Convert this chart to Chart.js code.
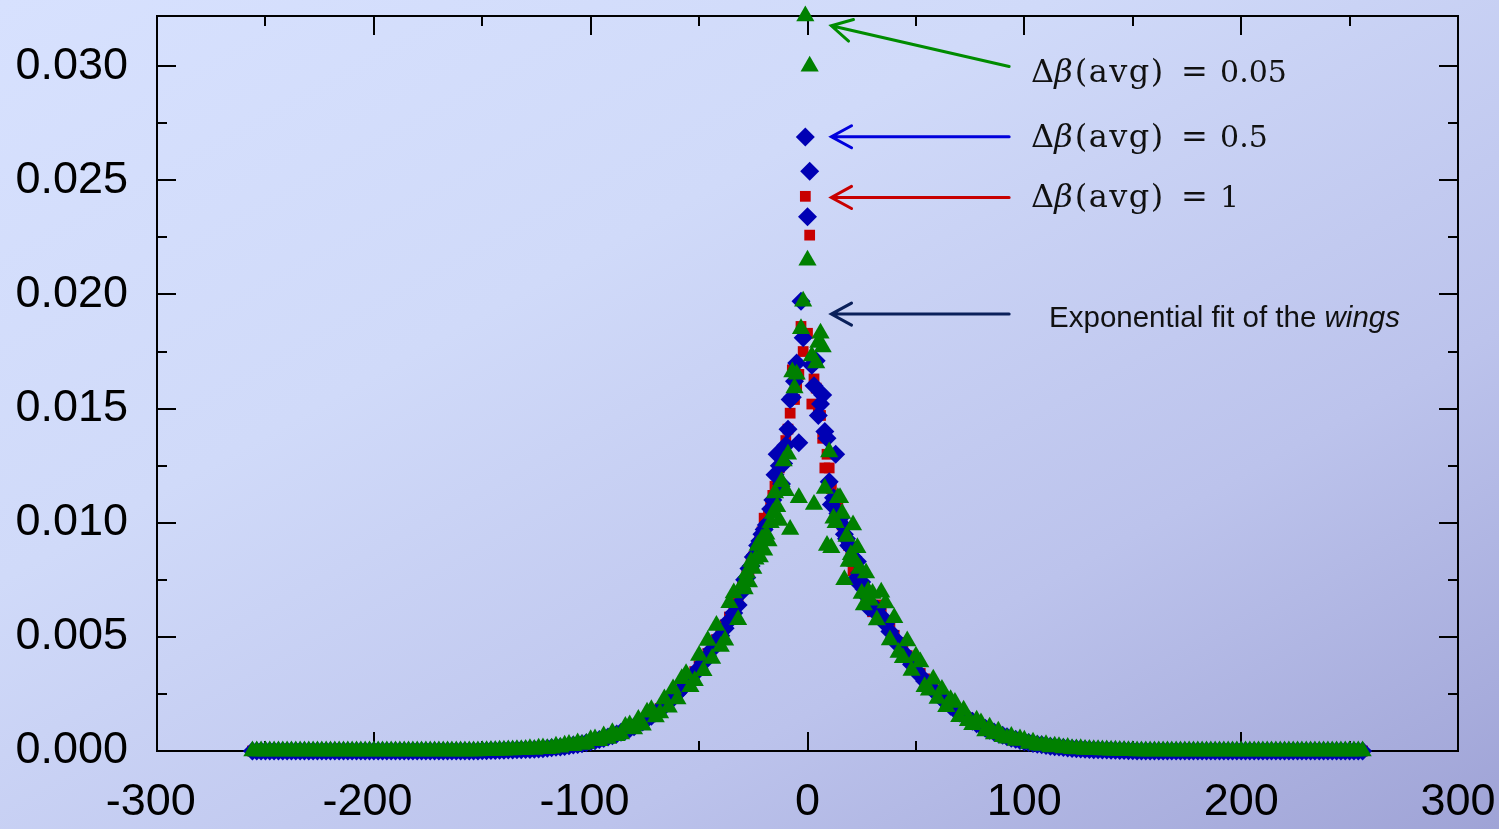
<!DOCTYPE html>
<html lang="en">
<head>
    <meta charset="UTF-8">
    <title>Δβ(avg) distributions</title>
    <script src="https://cdn.jsdelivr.net/npm/chart.js"></script>
    <style>
        html, body {
            margin: 0;
            padding: 0;
        }
        body {
            width: 1499px;
            height: 829px;
            overflow: hidden;
            background: linear-gradient(to bottom right, #d7e1fe 0%, #d0daf9 35%, #bcc3ec 70%, #9fa3d6 100%);
        }
        #chartContainer {
            position: relative;
            width: 1499px;
            height: 829px;
        }
    </style>
</head>
<body>
    <div id="chartContainer">
        <canvas id="myChart" width="1499" height="829"></canvas>
    </div>
    <script>
        // x grid: every 2 in the wings, every 1 near the peak
        const xs = [];
        for (let x = -256; x < -30; x += 2) xs.push(x);
        for (let x = -30; x <= 30; x++) xs.push(x);
        for (let x = 32; x <= 256; x += 2) xs.push(x);

        // |x| >= 152 : nothing left in the histogram
        const farZeros = [
            0, 0, 0, 0, 0, 0, 0, 0, 0, 0, 0, 0, 0, 0, 0, 0, 0, 0, 0, 0,
            0, 0, 0, 0, 0, 0, 0, 0, 0, 0, 0, 0, 0, 0, 0, 0, 0, 0, 0, 0,
            0, 0, 0, 0, 0, 0, 0, 0, 0, 0, 0, 0, 0
        ];
        // -150 .. -130 and 130 .. 150
        const tailIn = [0.00001, 0.00001, 0.00002, 0.00002, 0.00003, 0.00003, 0.00004, 0.00004, 0.00005, 0.00006, 0.00007];
        const tailOut = [0.00007, 0.00006, 0.00005, 0.00004, 0.00004, 0.00003, 0.00003, 0.00002, 0.00002, 0.00001, 0.00001];

        // Δβ(avg) = 0.05
        const green005 = [
            ...farZeros, ...tailIn,
            // -128 .. -32
            0.00010, 0.00007, 0.00012, 0.00013, 0.00010, 0.00012, 0.00021, 0.00016, 0.00025, 0.00028,
            0.00023, 0.00035, 0.00029, 0.00033, 0.00049, 0.00053, 0.00045, 0.00066, 0.00055, 0.00080,
            0.00067, 0.00074, 0.00107, 0.00114, 0.00096, 0.00138, 0.00113, 0.00170, 0.00181, 0.00149,
            0.00166, 0.00228, 0.00192, 0.00272, 0.00228, 0.00316, 0.00338, 0.00281, 0.00308, 0.00418,
            0.00352, 0.00484, 0.00405, 0.00550, 0.00458, 0.00485, 0.00650, 0.00692, 0.00575,
            // -30 .. 30
            0.0073, 0.0071, 0.0078, 0.0074, 0.0083, 0.0080, 0.0084, 0.0090, 0.0085, 0.0093,
            0.0088, 0.0095, 0.0092, 0.0100, 0.0104, 0.0113, 0.0107, 0.0101, 0.0118, 0.0127,
            0.0114, 0.0130, 0.0097, 0.0166, 0.0159, 0.0165, 0.0111, 0.0185, 0.0197, 0.0322,
            0.0215, 0.0300, 0.0173, 0.0108, 0.0170, 0.0179, 0.0183, 0.0177, 0.0115, 0.0090,
            0.0131, 0.0089, 0.0102, 0.0100, 0.0111, 0.0111, 0.0104, 0.0075, 0.0094, 0.0083,
            0.0086, 0.0099, 0.0083, 0.0089, 0.0080, 0.0069, 0.0064, 0.0078, 0.0070, 0.0066, 0.0069,
            // 32 .. 128
            0.00574, 0.00695, 0.00648, 0.00486, 0.00584, 0.00432, 0.00408, 0.00482, 0.00353, 0.00415,
            0.00390, 0.00282, 0.00266, 0.00314, 0.00230, 0.00269, 0.00194, 0.00225, 0.00212, 0.00150,
            0.00179, 0.00132, 0.00115, 0.00135, 0.00123, 0.00088, 0.00104, 0.00075, 0.00086, 0.00062,
            0.00056, 0.00064, 0.00046, 0.00053, 0.00047, 0.00033, 0.00038, 0.00026, 0.00024, 0.00027,
            0.00018, 0.00021, 0.00019, 0.00013, 0.00015, 0.00010, 0.00009, 0.00010, 0.00007,
            ...tailOut, ...farZeros
        ];

        // Δβ(avg) = 0.5
        const blue05 = [
            ...farZeros, ...tailIn,
            0.00007, 0.00008, 0.00009, 0.00010, 0.00012, 0.00014, 0.00016, 0.00018, 0.00020, 0.00023,
            0.00026, 0.00029, 0.00032, 0.00036, 0.00040, 0.00045, 0.00050, 0.00055, 0.00061, 0.00067,
            0.00074, 0.00082, 0.00089, 0.00097, 0.00106, 0.00116, 0.00127, 0.00140, 0.00152, 0.00166,
            0.00182, 0.00196, 0.00214, 0.00232, 0.00252, 0.00272, 0.00293, 0.00315, 0.00338, 0.00362,
            0.00388, 0.00415, 0.00445, 0.00476, 0.00505, 0.00538, 0.00572, 0.00605, 0.00640,
            0.0070, 0.0075, 0.0076, 0.0080, 0.0081, 0.0085, 0.0086, 0.0090, 0.0092, 0.0095,
            0.0097, 0.0099, 0.0100, 0.0106, 0.0110, 0.0121, 0.0130, 0.0125, 0.0117, 0.0126,
            0.0134, 0.0141, 0.0154, 0.0155, 0.0162, 0.0170, 0.0135, 0.0197, 0.0181, 0.0269,
            0.0234, 0.0254, 0.0169, 0.0160, 0.0171, 0.0147, 0.0152, 0.0156, 0.0140, 0.0137,
            0.0118, 0.0108, 0.0111, 0.0130, 0.0104, 0.0102, 0.0099, 0.0095, 0.0093, 0.0090,
            0.0089, 0.0085, 0.0075, 0.0083, 0.0078, 0.0074, 0.0071, 0.0068, 0.0063, 0.0064, 0.0062,
            0.00622, 0.00590, 0.00556, 0.00524, 0.00494, 0.00463, 0.00434, 0.00406, 0.00379, 0.00354,
            0.00330, 0.00307, 0.00286, 0.00266, 0.00247, 0.00229, 0.00212, 0.00196, 0.00181, 0.00167,
            0.00154, 0.00142, 0.00130, 0.00119, 0.00109, 0.00100, 0.00091, 0.00083, 0.00076, 0.00069,
            0.00062, 0.00056, 0.00051, 0.00046, 0.00041, 0.00037, 0.00033, 0.00030, 0.00027, 0.00024,
            0.00021, 0.00019, 0.00017, 0.00015, 0.00013, 0.00011, 0.00010, 0.00009, 0.00008,
            ...tailOut, ...farZeros
        ];

        // Δβ(avg) = 1
        const red1 = [
            ...farZeros, ...tailIn,
            0.00008, 0.00009, 0.00010, 0.00011, 0.00013, 0.00015, 0.00017, 0.00019, 0.00021, 0.00024,
            0.00027, 0.00030, 0.00034, 0.00038, 0.00042, 0.00047, 0.00052, 0.00057, 0.00063, 0.00070,
            0.00077, 0.00085, 0.00093, 0.00101, 0.00110, 0.00120, 0.00131, 0.00143, 0.00156, 0.00170,
            0.00186, 0.00202, 0.00219, 0.00238, 0.00258, 0.00279, 0.00301, 0.00324, 0.00348, 0.00373,
            0.00399, 0.00427, 0.00457, 0.00488, 0.00520, 0.00553, 0.00587, 0.00622, 0.00658,
            0.0072, 0.0074, 0.0078, 0.0079, 0.0082, 0.0085, 0.0087, 0.0090, 0.0093, 0.0096,
            0.0102, 0.0100, 0.0104, 0.0107, 0.0112, 0.0116, 0.0121, 0.0124, 0.0128, 0.0131,
            0.0136, 0.0141, 0.0148, 0.0167, 0.0154, 0.0160, 0.0165, 0.0186, 0.0175, 0.0243,
            0.0183, 0.0226, 0.0152, 0.0163, 0.0159, 0.0150, 0.0147, 0.0137, 0.0124, 0.0130,
            0.0124, 0.0115, 0.0111, 0.0109, 0.0107, 0.0103, 0.0099, 0.0096, 0.0093, 0.0090,
            0.0086, 0.0079, 0.0081, 0.0078, 0.0076, 0.0073, 0.0070, 0.0068, 0.0066, 0.0064, 0.0061,
            0.00640, 0.00606, 0.00571, 0.00538, 0.00507, 0.00476, 0.00446, 0.00418, 0.00390, 0.00364,
            0.00340, 0.00316, 0.00294, 0.00273, 0.00253, 0.00235, 0.00217, 0.00201, 0.00185, 0.00171,
            0.00157, 0.00145, 0.00133, 0.00122, 0.00112, 0.00102, 0.00093, 0.00085, 0.00077, 0.00070,
            0.00064, 0.00058, 0.00052, 0.00047, 0.00043, 0.00039, 0.00035, 0.00031, 0.00028, 0.00025,
            0.00022, 0.00020, 0.00018, 0.00016, 0.00014, 0.00012, 0.00011, 0.00010, 0.00009,
            ...tailOut, ...farZeros
        ];

        const betaLabels = ['0.05', '0.5', '1'];
        const xTicks = [-300, -200, -100, 0, 100, 200, 300];
        const xMinor = [-250, -150, -50, 50, 150, 250];
        const yTicks = [0, 0.005, 0.010, 0.015, 0.020, 0.025, 0.030];
        const yMinor = [0.0025, 0.0075, 0.0125, 0.0175, 0.0225, 0.0275];

        const toPoints = vals => xs.map((x, i) => ({ x: x, y: vals[i] }));

        // black frame with inward ticks on all four sides
        const frameTicks = {
            id: 'frameTicks',
            beforeDatasetsDraw(chart) {
                const { ctx, chartArea: a, scales: { x, y } } = chart;
                ctx.save();
                ctx.strokeStyle = '#000';
                ctx.lineWidth = 2;
                ctx.beginPath();
                const xt = (v, len) => {
                    const px = Math.round(x.getPixelForValue(v));
                    ctx.moveTo(px, a.bottom); ctx.lineTo(px, a.bottom - len);
                    ctx.moveTo(px, a.top); ctx.lineTo(px, a.top + len);
                };
                const yt = (v, len) => {
                    const py = Math.round(y.getPixelForValue(v));
                    ctx.moveTo(a.left, py); ctx.lineTo(a.left + len, py);
                    ctx.moveTo(a.right, py); ctx.lineTo(a.right - len, py);
                };
                xTicks.forEach(v => xt(v, 19));
                xMinor.forEach(v => xt(v, 10));
                yTicks.forEach(v => yt(v, 19));
                yMinor.forEach(v => yt(v, 10));
                ctx.stroke();
                ctx.strokeRect(a.left, a.top, a.right - a.left, a.bottom - a.top);
                ctx.restore();
            }
        };

        function arrow(ctx, x0, y0, x1, y1, color) {
            const ang = Math.atan2(y1 - y0, x1 - x0);
            const len = 23, spread = 0.5;
            ctx.strokeStyle = color;
            ctx.lineWidth = 3;
            ctx.lineCap = 'round';
            ctx.beginPath();
            ctx.moveTo(x0, y0);
            ctx.lineTo(x1, y1);
            ctx.moveTo(x1 - len * Math.cos(ang - spread), y1 - len * Math.sin(ang - spread));
            ctx.lineTo(x1, y1);
            ctx.lineTo(x1 - len * Math.cos(ang + spread), y1 - len * Math.sin(ang + spread));
            ctx.stroke();
        }

        function betaLabel(ctx, x, y, value) {
            const serif = '"DejaVu Serif", "Liberation Serif", serif';
            ctx.fillStyle = '#111';
            ctx.textBaseline = 'alphabetic';
            ctx.textAlign = 'left';
            let cx = x;
            ctx.font = '32px ' + serif;
            ctx.fillText('Δ', cx, y);
            cx += ctx.measureText('Δ').width;
            ctx.font = 'italic 32px ' + serif;
            ctx.fillText('β', cx, y);
            cx += ctx.measureText('β').width + 2;
            ctx.font = '32px ' + serif;
            ctx.letterSpacing = '1.5px';
            ctx.fillText('(avg)', cx, y);
            ctx.letterSpacing = '0px';
            ctx.fillText('=', x + 150, y);
            ctx.font = '30px ' + serif;
            ctx.fillText(value, x + 189, y);
        }

        const annotations = {
            id: 'annotations',
            afterDatasetsDraw(chart) {
                const { ctx, scales: { x, y } } = chart;
                const px = v => x.getPixelForValue(v);
                const py = v => y.getPixelForValue(v);
                ctx.save();
                arrow(ctx, px(93), py(0.02999), px(11), py(0.03177), '#008c00');
                arrow(ctx, px(93), py(0.02691), px(11), py(0.02691), '#0000dc');
                arrow(ctx, px(93), py(0.02425), px(11), py(0.02425), '#c80000');
                arrow(ctx, px(93), py(0.01914), px(11), py(0.01914), '#0a205a');

                betaLabel(ctx, px(103.1), py(0.02933), betaLabels[0]);
                betaLabel(ctx, px(103.1), py(0.02648), betaLabels[1]);
                betaLabel(ctx, px(103.1), py(0.02385), betaLabels[2]);

                const sans = '"Liberation Sans", Arial, sans-serif';
                ctx.fillStyle = '#111';
                ctx.font = '29.5px ' + sans;
                const head = 'Exponential fit of the ';
                const fx = px(111.4), fy = py(0.01858);
                ctx.fillText(head, fx, fy);
                const w = ctx.measureText(head).width;
                ctx.font = 'italic 29.5px ' + sans;
                ctx.fillText('wings', fx + w, fy);
                ctx.restore();
            }
        };

        const tickFont = { family: '"Liberation Sans", Arial, sans-serif', size: 45 };

        const myChart = new Chart(document.getElementById('myChart').getContext('2d'), {
            type: 'scatter',
            data: {
                datasets: [
                    {
                        label: 'Δβ(avg) = 0.05',
                        data: toPoints(green005),
                        pointStyle: 'triangle',
                        pointRadius: 10.5,
                        backgroundColor: '#008000',
                        borderWidth: 0,
                        clip: false
                    },
                    {
                        label: 'Δβ(avg) = 0.5',
                        data: toPoints(blue05),
                        pointStyle: 'rectRot',
                        pointRadius: 9.5,
                        backgroundColor: '#0000b4',
                        borderWidth: 0,
                        clip: false
                    },
                    {
                        label: 'Δβ(avg) = 1',
                        data: toPoints(red1),
                        pointStyle: 'rect',
                        pointRadius: 7.6,
                        backgroundColor: '#c80000',
                        borderWidth: 0,
                        clip: false
                    }
                ]
            },
            options: {
                responsive: false,
                devicePixelRatio: 1,
                animation: false,
                events: [],
                layout: { padding: { left: 0, top: 16, right: 41, bottom: 0 } },
                plugins: {
                    legend: { display: false },
                    tooltip: { enabled: false }
                },
                scales: {
                    x: {
                        type: 'linear',
                        min: -300,
                        max: 300,
                        afterBuildTicks: s => { s.ticks = xTicks.map(v => ({ value: v })); },
                        afterFit: s => {
                            s.height = 78;
                            s.paddingLeft = 0;
                            s.paddingRight = 0;
                        },
                        ticks: {
                            font: tickFont,
                            color: '#000',
                            padding: 25,
                            maxRotation: 0,
                            autoSkip: false,
                            callback: v => v < 0 ? v + ' ' : String(v)
                        },
                        grid: { display: false, drawTicks: false },
                        border: { display: false }
                    },
                    y: {
                        type: 'linear',
                        min: 0,
                        max: 0.0322,
                        afterBuildTicks: s => { s.ticks = yTicks.map(v => ({ value: v })); },
                        afterFit: s => {
                            s.width = 157;
                            s.paddingTop = 0;
                            s.paddingBottom = 0;
                        },
                        ticks: {
                            font: tickFont,
                            color: '#000',
                            padding: 29,
                            callback: v => v.toFixed(3)
                        },
                        grid: { display: false, drawTicks: false },
                        border: { display: false }
                    }
                }
            },
            plugins: [frameTicks, annotations]
        });
    </script>
</body>
</html>
